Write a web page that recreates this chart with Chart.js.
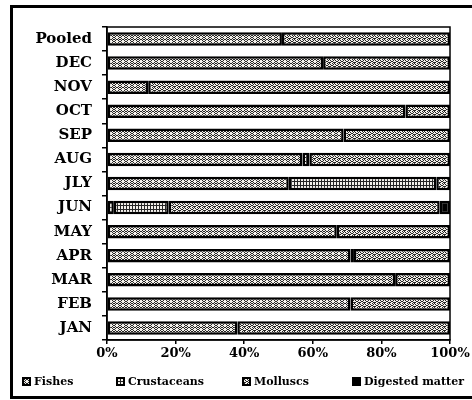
<!DOCTYPE html>
<html>
<head>
<meta charset="utf-8">
<script src="https://cdn.jsdelivr.net/npm/chart.js@4/dist/chart.umd.min.js"></script>
<style>
  html, body { margin: 0; padding: 0; background: #fff; }
  #wrap { width: 472px; height: 400px; }
</style>
</head>
<body>
<div id="wrap"><canvas id="diet" width="472" height="400"></canvas></div>
<script>
// prey composition (% of diet) per month
const months = ['Pooled', 'DEC', 'NOV', 'OCT', 'SEP', 'AUG', 'JLY', 'JUN', 'MAY', 'APR', 'MAR', 'FEB', 'JAN'];
const fishes      = [51, 63, 12, 87, 69, 57, 53,  2, 67, 71, 84, 71, 38];
const crustaceans = [ 0,  0,  0,  0,  0,  2, 43, 16,  0,  1,  0,  0,  0];
const molluscs    = [49, 37, 88, 13, 31, 41,  4, 79, 33, 28, 16, 29, 62];
const digested    = [ 0,  0,  0,  0,  0,  0,  0,  3,  0,  0,  0,  0,  0];
const xTicks = [0, 20, 40, 60, 80, 100];
const seriesNames = ['Fishes', 'Crustaceans', 'Molluscs', 'Digested matter'];

const serif = '"DejaVu Serif", "Liberation Serif", serif';

// build a fill pattern from a small pixel map ('#' = light pixel)
function makePattern(rows, bg, fg) {
    const c = document.createElement('canvas');
    c.width = rows[0].length;
    c.height = rows.length;
    const g = c.getContext('2d');
    g.fillStyle = bg;
    g.fillRect(0, 0, c.width, c.height);
    g.fillStyle = fg;
    rows.forEach((r, y) => {
        for (let x = 0; x < r.length; x++) {
            if (r[x] === '#') g.fillRect(x, y, 1, 1);
        }
    });
    return g.createPattern(c, 'repeat');
}

const dark = '#262626', light = '#f3f0ea';

const fishFill = makePattern([
    '#.##.#',
    '.####.',
    '#.##.#',
    '.#..#.'
], dark, light);

const crustFill = makePattern([
    '.##',
    '...',
    '.##',
    '.##'
], dark, light);

const molluscFill = makePattern([
    '.##.#',
    '#..##',
    '.##..',
    '##.#.'
], dark, light);

const fills = [fishFill, crustFill, molluscFill, '#000'];
const values = [fishes, crustaceans, molluscs, digested];

// outer page frame and box round the plot
const framePlugin = {
    id: 'frame',
    beforeDraw(chart) {
        const ctx = chart.ctx;
        ctx.save();
        ctx.fillStyle = '#fff';
        ctx.fillRect(0, 0, chart.width, chart.height);
        ctx.fillStyle = '#000';
        ctx.fillRect(10, 5, 472, 3);   // top
        ctx.fillRect(10, 5, 3, 393);   // left
        ctx.fillRect(10, 396, 472, 3); // bottom
        ctx.restore();
    },
    afterDraw(chart) {
        const a = chart.chartArea;
        const ctx = chart.ctx;
        ctx.save();
        ctx.strokeStyle = '#000';
        ctx.lineWidth = 1.5;
        ctx.strokeRect(a.left, a.top, a.right - a.left, a.bottom - a.top);
        ctx.restore();
    }
};

// legend spread along the bottom like the original
const legendPlugin = {
    id: 'spreadLegend',
    afterDraw(chart) {
        const ctx = chart.ctx;
        const xs = [22, 116, 242, 352];
        ctx.save();
        ctx.font = 'bold 11px ' + serif;
        ctx.textBaseline = 'middle';
        chart.data.datasets.forEach((ds, i) => {
            ctx.fillStyle = ds.backgroundColor;
            ctx.fillRect(xs[i], 377, 9, 9);
            ctx.strokeStyle = '#000';
            ctx.lineWidth = 2;
            ctx.strokeRect(xs[i] + 1, 378, 7, 7);
            ctx.fillStyle = '#000';
            ctx.fillText(ds.label, xs[i] + 12, 382);
        });
        ctx.restore();
    }
};

const ctx = document.getElementById('diet').getContext('2d');
new Chart(ctx, {
    type: 'bar',
    data: {
        labels: months,
        datasets: seriesNames.map((name, i) => ({
            label: name,
            data: values[i].map(v => (v === 0 ? null : v)),
            backgroundColor: fills[i],
            borderColor: '#000',
            borderWidth: 2.5,
            borderSkipped: false,
            barPercentage: 0.56,
            categoryPercentage: 1
        }))
    },
    options: {
        indexAxis: 'y',
        responsive: false,
        animation: false,
        layout: { padding: { left: 14, right: 22, top: 27, bottom: 0 } },
        plugins: {
            legend: { display: false },
            tooltip: { enabled: false }
        },
        scales: {
            x: {
                stacked: true,
                min: 0,
                max: 100,
                afterBuildTicks(scale) {
                    scale.ticks = xTicks.map(v => ({ value: v }));
                },
                afterFit(scale) { scale.height = 60; },
                grid: { drawOnChartArea: false, drawTicks: true, tickLength: 4, color: '#000', lineWidth: 1.5 },
                border: { display: true, color: '#000', width: 1.5 },
                ticks: {
                    color: '#000',
                    padding: 2,
                    font: { family: serif, size: 13, weight: 'bold' },
                    callback: v => v + '%'
                }
            },
            y: {
                stacked: true,
                afterFit(scale) { scale.width = 93; },
                grid: { drawOnChartArea: false, drawTicks: true, tickLength: 5, color: '#000', lineWidth: 1.5 },
                border: { display: true, color: '#000', width: 1.5 },
                ticks: {
                    color: '#000',
                    padding: 10,
                    font: { family: serif, size: 15, weight: 'bold' }
                }
            }
        }
    },
    plugins: [framePlugin, legendPlugin]
});
</script>
</body>
</html>
